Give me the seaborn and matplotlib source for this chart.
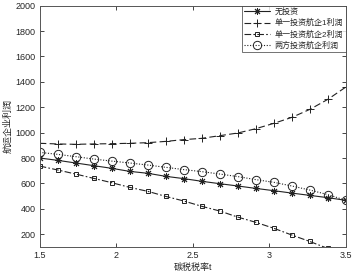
import numpy as np
import pandas as pd
import matplotlib
matplotlib.use("Agg")
import matplotlib.pyplot as plt
import seaborn as sns

# carbon tax rate t (18 sampled points between 1.5 and 3.5)
t = np.linspace(1.5, 3.5, 18)

no_invest = [800, 782, 761, 740, 719, 695, 680, 656, 638, 617, 598, 580,
             561, 543, 524, 506, 488, 467]
invest_a1 = [916, 911, 908, 911, 913, 916, 921, 931, 945, 955, 976, 997,
             1031, 1073, 1120, 1183, 1262, 1359]
invest_a2 = [737, 706, 674, 640, 606, 569, 538, 498, 462, 420, 383, 335,
             294, 247, 194, 143, 88, 30]
invest_both = [845, 829, 811, 792, 776, 761, 745, 727, 709, 693, 674, 654,
               630, 609, 580, 548, 512, 467]

labels = ["无投资", "单一投资航企1利润", "单一投资航企2利润", "两方投资航企利润"]
x_ticks = [1.5, 2, 2.5, 3, 3.5]
y_ticks = [200, 400, 600, 800, 1000, 1200, 1400, 1600, 1800, 2000]

sns.set_style("ticks")
plt.rcParams["font.family"] = ["Liberation Sans", "Noto Sans CJK SC"]

fig = plt.figure(figsize=(3.54, 2.8), dpi=100)
ax = fig.add_axes([0.112, 0.118, 0.865, 0.862])

series = [no_invest, invest_a1, invest_a2, invest_both]
styles = [
    dict(linestyle="-", marker=(8, 2, 0), markersize=5, markerfacecolor="black"),
    dict(linestyle=(0, (6, 3)), marker="+", markersize=6),
    dict(linestyle=(0, (6, 2, 1.5, 2)), marker="s", markersize=3.5,
         markerfacecolor="none"),
    dict(linestyle=(0, (1, 1.5)), marker="o", markersize=6,
         markerfacecolor="none"),
]
for vals, lab, st in zip(series, labels, styles):
    df = pd.DataFrame({"t": t, "profit": vals})
    sns.lineplot(data=df, x="t", y="profit", ax=ax, color="#222222",
                 linewidth=0.8, markeredgewidth=0.7, markeredgecolor="#222222",
                 label=lab, **st)

ax.set_xlim(1.5, 3.5)
ax.set_ylim(100, 2000)
ax.set_xticks(x_ticks)
ax.set_xticklabels(["1.5", "2", "2.5", "3", "3.5"])
ax.set_yticks(y_ticks)
ax.tick_params(direction="in", length=3, width=0.6, labelsize=6.5,
               top=True, right=True, pad=3)
for s in ax.spines.values():
    s.set_linewidth(0.7)
    s.set_color("#555555")

ax.set_xlabel("碳税税率t", fontsize=6.5, labelpad=2)
ax.set_ylabel("航运企业利润", fontsize=6.5, labelpad=2)

leg = ax.legend(loc="upper right", fontsize=5.8, frameon=True, fancybox=False,
                handlelength=3.2, borderpad=0.3, labelspacing=0.35,
                handletextpad=0.6, borderaxespad=0)
leg.get_frame().set_edgecolor("#333333")
leg.get_frame().set_linewidth(0.6)

fig.savefig("out.png", dpi=100)
